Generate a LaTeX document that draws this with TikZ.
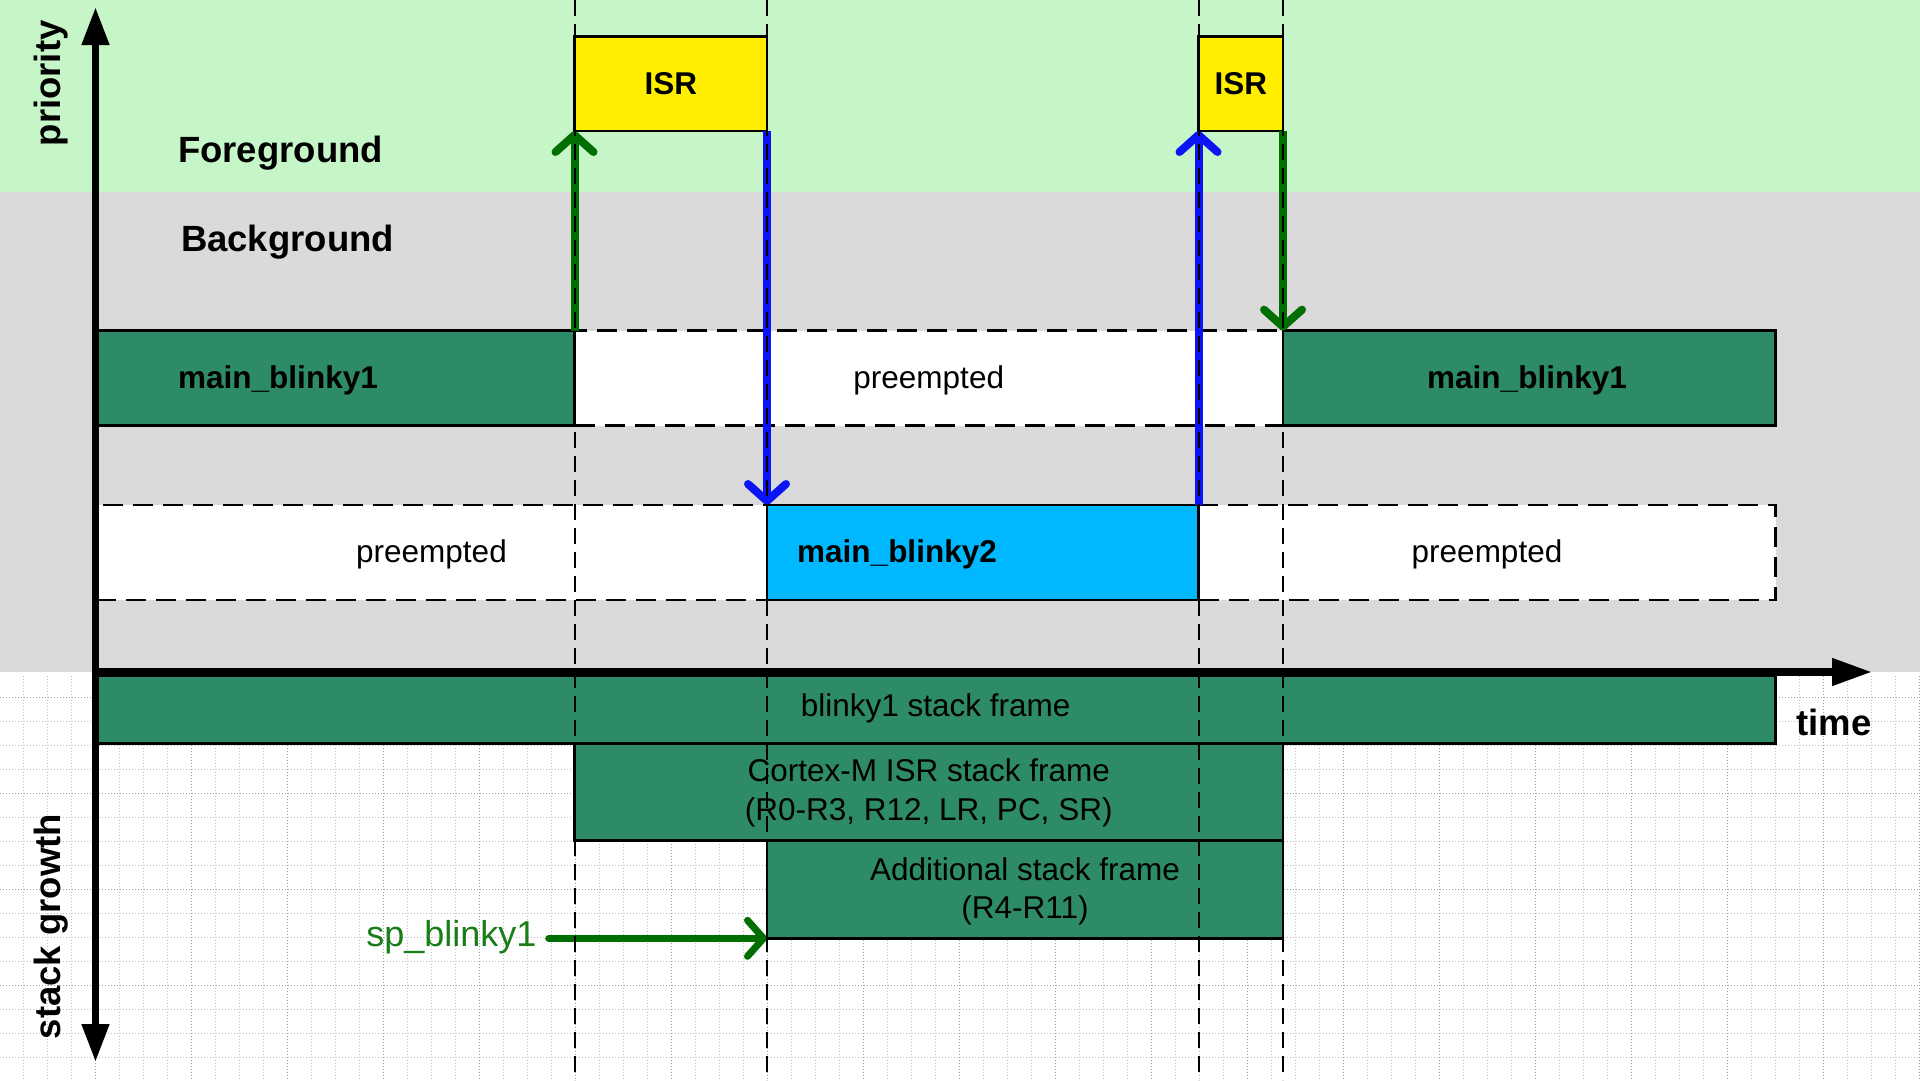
\documentclass[tikz,border=0pt]{standalone}
\usepackage{fontspec}
\setmainfont{Liberation Sans}
\usetikzlibrary{arrows.meta}
\definecolor{fgband}{RGB}{198,246,200}
\definecolor{bgband}{RGB}{218,218,218}
\definecolor{taskgreen}{RGB}{46,139,103}
\definecolor{taskcyan}{RGB}{0,184,255}
\definecolor{isryellow}{RGB}{255,238,0}
\definecolor{arrgreen}{RGB}{0,110,0}
\definecolor{arrblue}{RGB}{10,20,245}
\definecolor{sptext}{RGB}{25,125,25}
\definecolor{gridminor}{RGB}{190,190,190}
\definecolor{gridmajor}{RGB}{160,160,160}
\begin{document}
\begin{tikzpicture}[x=1pt,y=-1pt,
  box/.style={rectangle, inner sep=0pt, outer sep=0pt, anchor=north west, draw=black, line width=2.7pt},
  gbox/.style={box, fill=taskgreen},
  cbox/.style={box, fill=taskcyan},
  ybox/.style={box, fill=isryellow},
  dbox/.style={box, fill=white, line width=2.8pt, dash pattern=on 20pt off 10pt},
  lbl/.style={inner sep=0pt, anchor=base, font=\fontsize{31.5}{38}\selectfont},
  boldlbl/.style={lbl, font=\fontsize{31.5}{38}\selectfont\bfseries},
  bigbold/.style={inner sep=0pt, font=\fontsize{36.5}{43}\selectfont\bfseries},
  garrow/.style={draw=arrgreen, line width=8pt, -{Straight Barb[length=17pt,width=38pt,round]}},
  barrow/.style={draw=arrblue, line width=8pt, -{Straight Barb[length=17pt,width=38pt,round]}},
  sparrow/.style={draw=arrgreen, line width=7pt, line cap=round, -{Straight Barb[length=16pt,width=36pt,round]}},
  axisline/.style={draw=black, line width=7.5pt},
  guide/.style={draw=black, line width=2pt, dash pattern=on 16pt off 8pt},
  gridmin/.style={draw=gridminor, line width=1pt, dash pattern=on 1pt off 2pt},
  gridmaj/.style={draw=gridmajor, line width=1pt, dash pattern=on 1pt off 2pt}
]
\useasboundingbox (0,0) rectangle (1920,1080);
% background bands
\fill[fgband] (0,0) rectangle (1920,192.3);
\fill[bgband] (0,192.3) rectangle (1920,672);
\fill[white] (0,672) rectangle (1920,1080);
% grid in the stack area
\foreach \gx in {23,47,...,1919} \draw[gridmin] (\gx,676) -- (\gx,1080);
\foreach \gy in {697,721,...,1081} \draw[gridmin] (0,\gy) -- (1920,\gy);
\foreach \gx in {-1,95,...,1919} \draw[gridmaj] (\gx,676) -- (\gx,1080);
\foreach \gy in {697,793,...,1081} \draw[gridmaj] (0,\gy) -- (1920,\gy);

% labels of the bands
\node[bigbold, anchor=base] (fg) at (280.5,162.3) {Foreground};
\node[bigbold, anchor=base] (bg) at (287.5,251) {Background};
\node[bigbold, rotate=90] (prio) at (50.8,83.3) {priority};
\node[bigbold, rotate=90] (sg) at (50.8,926.5) {stack growth};
\node[bigbold, anchor=base] (tm) at (1834,735) {time};

% ISR boxes
\node[ybox, minimum width=192.5pt, minimum height=94.3pt] (isr1) at (574.5,36.7) {};
\node[ybox, minimum width=84.5pt, minimum height=94.3pt] (isr2) at (1198.5,36.7) {};
\node[boldlbl] (isr1t) at (670.75,94) {ISR};
\node[boldlbl] (isr2t) at (1240.75,94) {ISR};

% row 1: main_blinky1
\node[dbox, minimum width=708.5pt, minimum height=95pt] (pre1) at (574.5,330.7) {};
\node[gbox, minimum width=478.5pt, minimum height=95pt] (mb1a) at (96,330.7) {};
\node[gbox, minimum width=492.5pt, minimum height=95pt] (mb1b) at (1283,330.7) {};
\node[boldlbl] (mb1at) at (278,388) {main\_blinky1};
\node[lbl] (pre1t) at (928.75,388) {preempted};
\node[boldlbl] (mb1bt) at (1527,388) {main\_blinky1};

% row 2: main_blinky2
\node[dbox, minimum width=671pt, minimum height=95pt] (pre2a) at (96,505) {};
\node[dbox, minimum width=577pt, minimum height=95pt] (pre2b) at (1198.5,505) {};
\node[cbox, minimum width=431.5pt, minimum height=95pt] (mb2) at (767,505) {};
\node[lbl] (pre2at) at (431.5,562) {preempted};
\node[boldlbl] (mb2t) at (897,562) {main\_blinky2};
\node[lbl] (pre2bt) at (1487,562) {preempted};

% stack frames
\node[gbox, minimum width=1679.5pt, minimum height=67.3pt] (sf1) at (96,676) {};
\node[gbox, minimum width=708.5pt, minimum height=97pt] (sf2) at (574.5,743.3) {};
\node[gbox, minimum width=516pt, minimum height=98pt] (sf3) at (767,840.3) {};
\node[lbl] (sf1t) at (935.7,716.7) {blinky1 stack frame};
\node[lbl] (sf2ta) at (928.75,781.7) {Cortex-M ISR stack frame};
\node[lbl] (sf2tb) at (928.75,820.7) {(R0-R3, R12, LR, PC, SR)};
\node[lbl] (sf3ta) at (1025,880) {Additional stack frame};
\node[lbl] (sf3tb) at (1025,918) {(R4-R11)};

% stack pointer
\node[inner sep=0pt, anchor=base east, text=sptext, font=\fontsize{36}{43}\selectfont] (sp) at (536.7,946.7) {sp\_blinky1};
\draw[sparrow] ([xshift=12pt]sp.east |- sf3.south west) -- (sf3.south west);

% context switch arrows
\draw[garrow] (mb1a.north east) -- (isr1.south west);
\draw[barrow] (isr1.south east) -- (mb2.north west);
\draw[barrow] (mb2.north east) -- (isr2.south west);
\draw[garrow] (isr2.south east) -- (mb1b.north west);

% axes
\coordinate (org) at (95.5,672);
\coordinate (ytop) at (95.5,7);
\coordinate (ybot) at (95.5,1062);
\coordinate (xend) at (1872,672);
\draw[axisline, {Triangle[length=38pt,width=26pt]}-{Triangle[length=38pt,width=26pt]}] (ybot) -- (ytop);
\draw[axisline, -{Triangle[length=40pt,width=26pt]}] (org) -- (xend);

% time guides
\foreach \vx in {574.5,767,1198.5,1283} \draw[guide] (\vx,0) -- (\vx,1080);
\end{tikzpicture}
\end{document}
